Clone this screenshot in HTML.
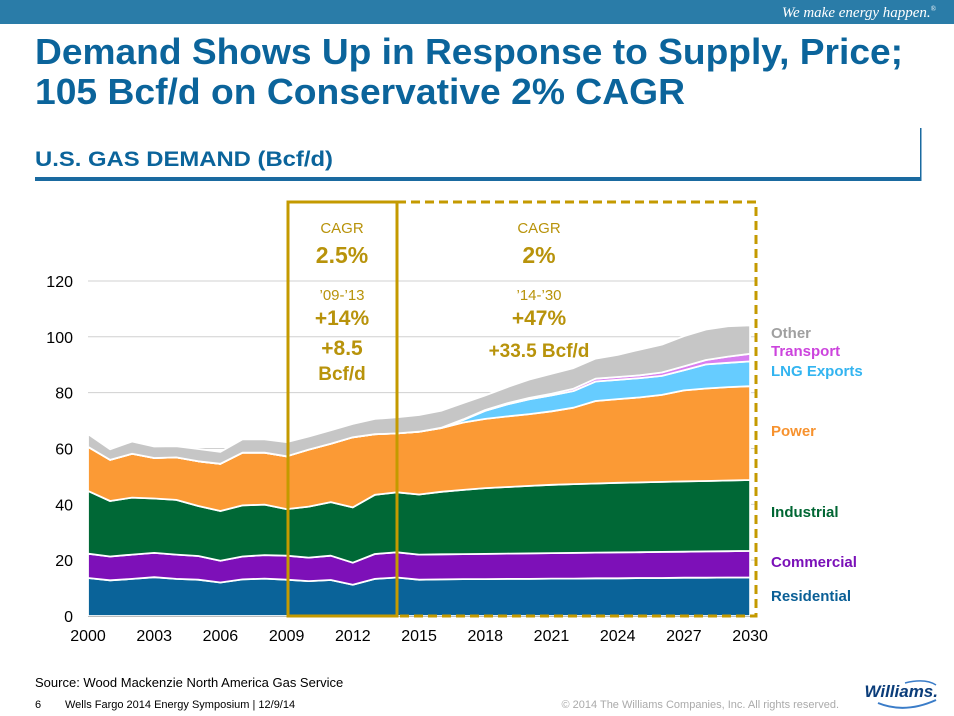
<!DOCTYPE html>
<html><head><meta charset="utf-8"><style>
html,body{margin:0;padding:0;background:#fff;}
svg{display:block;font-family:"Liberation Sans",Arial,sans-serif;}
</style></head><body>
<svg id="s" width="954" height="716" viewBox="0 0 954 716" xmlns="http://www.w3.org/2000/svg">
<rect x="0" y="0" width="954" height="24" fill="#2a7ca8"/>
<text x="936" y="17" fill="#fff" font-family="Liberation Serif,serif" font-style="italic" font-size="15" text-anchor="end">We make energy happen.<tspan font-size="7" dy="-6">®</tspan></text>
<text x="35" y="64" fill="#0b649b" font-weight="bold" font-size="36" textLength="868" lengthAdjust="spacingAndGlyphs">Demand Shows Up in Response to Supply, Price;</text>
<text x="35" y="104" fill="#0b649b" font-weight="bold" font-size="36" textLength="650" lengthAdjust="spacingAndGlyphs">105 Bcf/d on Conservative 2% CAGR</text>
<text x="35" y="166" fill="#0b649b" font-weight="bold" font-size="21" textLength="298" lengthAdjust="spacingAndGlyphs">U.S. GAS DEMAND (Bcf/d)</text>
<rect x="35" y="177" width="886" height="4" fill="#1a6aa0"/>
<rect x="920" y="128" width="1.5" height="53" fill="#1a6aa0"/>
<g id="grid"></g>
<g id="areas"></g>
<line x1="88" y1="616.5" x2="757" y2="616.5" stroke="#bbb" stroke-width="1"/>
<g id="axis" font-size="16" fill="#000"></g>
<rect x="288" y="202" width="109" height="414" fill="none" stroke="#c49a00" stroke-width="3"/>
<path d="M397 202 H756 V616 H397" fill="none" stroke="#c49a00" stroke-width="3" stroke-dasharray="9,5"/>
<g fill="#b8930b" text-anchor="middle">
<text x="342" y="233" font-size="15">CAGR</text>
<text x="342" y="263" font-size="23" font-weight="bold">2.5%</text>
<text x="342" y="300" font-size="15">’09-’13</text>
<text x="342" y="325" font-size="21" font-weight="bold">+14%</text>
<text x="342" y="355" font-size="21" font-weight="bold">+8.5</text>
<text x="342" y="380" font-size="19" font-weight="bold">Bcf/d</text>
<text x="539" y="233" font-size="15">CAGR</text>
<text x="539" y="263" font-size="23" font-weight="bold">2%</text>
<text x="539" y="300" font-size="15">’14-’30</text>
<text x="539" y="325" font-size="21" font-weight="bold">+47%</text>
<text x="539" y="357" font-size="19" font-weight="bold">+33.5 Bcf/d</text>
</g>
<g font-size="15" font-weight="bold">
<text x="771" y="338" fill="#a0a0a0">Other</text>
<text x="771" y="356" fill="#cc44dd">Transport</text>
<text x="771" y="376" fill="#33b4f0">LNG Exports</text>
<text x="771" y="436" fill="#f7922e">Power</text>
<text x="771" y="517" fill="#006633">Industrial</text>
<text x="771" y="567" fill="#7a10b8">Commercial</text>
<text x="771" y="601" fill="#0a5f96">Residential</text>
</g>
<text x="35" y="687" font-size="13" fill="#000">Source:  Wood Mackenzie North America Gas Service</text>
<text x="35" y="708" font-size="11" fill="#000">6</text>
<text x="65" y="708" font-size="11" fill="#000">Wells Fargo 2014 Energy Symposium | 12/9/14</text>
<text x="839" y="708" font-size="11" fill="#aaa" text-anchor="end">© 2014 The Williams Companies, Inc. All rights reserved.</text>
<text x="938" y="697" font-size="17" font-weight="bold" font-style="italic" fill="#0b3d7a" text-anchor="end">Williams.</text>
<path d="M878 703 Q905 714 936 700" fill="none" stroke="#3a7cc8" stroke-width="2"/>
<path d="M905 683 Q925 678 936 685" fill="none" stroke="#3a7cc8" stroke-width="1.5"/>
</svg>
<script>
var NS="http://www.w3.org/2000/svg";
function X(y){return 88+(y-2000)*22.07;}
function Y(v){return 616-v*2.792;}
var yrs=[];for(var i=2000;i<=2030;i++)yrs.push(i);
function interp(pts){var o=[];for(var y=2000;y<=2030;y++){var k=0;while(k<pts.length-2&&pts[k+1][0]<y)k++;var a=pts[k],b=pts[k+1];if(y<=a[0]){o.push(a[1]);continue;}var t=(y-a[0])/(b[0]-a[0]);o.push(a[1]+t*(b[1]-a[1]));}return o;}
var res=[13.6,12.8,13.3,13.9,13.3,13.0,12.0,13.1,13.4,13.0,12.5,12.9,11.2,13.3,13.8,13.0,13.1,13.2,13.2,13.3,13.3,13.4,13.4,13.5,13.5,13.6,13.6,13.7,13.7,13.8,13.8];
var com=interp([[2000,22.3],[2001,21.3],[2002,22.0],[2003,22.6],[2004,22.0],[2005,21.5],[2006,19.8],[2007,21.3],[2008,21.8],[2009,21.6],[2010,20.9],[2011,21.6],[2012,19.1],[2013,22.2],[2014,22.8],[2015,22.0],[2030,23.3]]);
var ind=interp([[2000,44.8],[2001,41.2],[2002,42.4],[2003,42.1],[2004,41.6],[2005,39.4],[2006,37.6],[2007,39.6],[2008,39.9],[2009,38.3],[2010,39.2],[2011,40.8],[2012,38.9],[2013,43.4],[2014,44.3],[2015,43.5],[2016,44.5],[2018,45.8],[2021,47.0],[2024,47.7],[2027,48.2],[2030,48.7]]);
var pow=[60.6,55.9,58.1,56.6,56.8,55.4,54.5,58.5,58.5,57.2,59.6,61.7,64.0,65.1,65.4,66.0,67.3,69.3,70.6,71.5,72.3,73.3,74.6,77.0,77.7,78.3,79.2,80.8,81.5,82.0,82.3];
var lng=pow.map(function(v,i){var y=2000+i;var m={2016:67.3,2017:70.2,2018:73.5,2019:75.8,2020:77.6,2021:79.0,2022:80.6,2023:84.0,2024:84.6,2025:85.2,2026:86.0,2027:88.0,2028:90.1,2029:90.7,2030:91.2};return m[y]!==undefined?Math.max(m[y],v):v;});
var tr=lng.map(function(v,i){var y=2000+i;var d={2016:0.1,2017:0.2,2018:0.3,2019:0.4,2020:0.5,2021:0.6,2022:0.8,2023:1.0,2024:1.0,2025:1.0,2026:1.2,2027:1.4,2028:1.6,2029:2.2,2030:2.7};return v+(d[y]||0);});
var oth=[65.2,59.7,62.5,60.7,60.8,59.8,58.8,63.3,63.3,62.3,64.3,66.5,68.8,70.6,71.2,72.0,73.5,76.3,79.0,82.0,84.7,86.8,88.8,92.2,93.5,95.4,97.2,100.2,102.6,103.8,104.1];
var zero=yrs.map(function(){return 0;});
var layers=[[zero,res,"#0a6399"],[res,com,"#7d10b8"],[com,ind,"#006836"],[ind,pow,"#fb9a35"],[pow,lng,"#66ccff"],[lng,tr,"#d87ef0"],[tr,oth,"#c6c6c6"]];
var g=document.getElementById("areas");
layers.forEach(function(L){var d="M";for(var i=0;i<31;i++)d+=X(2000+i).toFixed(1)+" "+Y(L[1][i]).toFixed(1)+" L";for(var i=30;i>=0;i--)d+=X(2000+i).toFixed(1)+" "+Y(L[0][i]).toFixed(1)+(i?" L":" Z");var p=document.createElementNS(NS,"path");p.setAttribute("d",d);p.setAttribute("fill",L[2]);p.setAttribute("stroke","#fff");p.setAttribute("stroke-width","1.8");p.setAttribute("stroke-linejoin","round");g.appendChild(p);});
var gr=document.getElementById("grid");
for(var v=20;v<=120;v+=20){var l=document.createElementNS(NS,"line");l.setAttribute("x1",88);l.setAttribute("x2",757);l.setAttribute("y1",Y(v));l.setAttribute("y2",Y(v));l.setAttribute("stroke","#d0d0d0");l.setAttribute("stroke-width","1");gr.appendChild(l);}
var ax=document.getElementById("axis");
for(var v=0;v<=120;v+=20){var t=document.createElementNS(NS,"text");t.setAttribute("x",73);t.setAttribute("y",Y(v)+6);t.setAttribute("text-anchor","end");t.textContent=v;ax.appendChild(t);}
for(var y=2000;y<=2030;y+=3){var t=document.createElementNS(NS,"text");t.setAttribute("x",X(y));t.setAttribute("y",641);t.setAttribute("text-anchor","middle");t.textContent=y;ax.appendChild(t);}
</script>
</body></html>
